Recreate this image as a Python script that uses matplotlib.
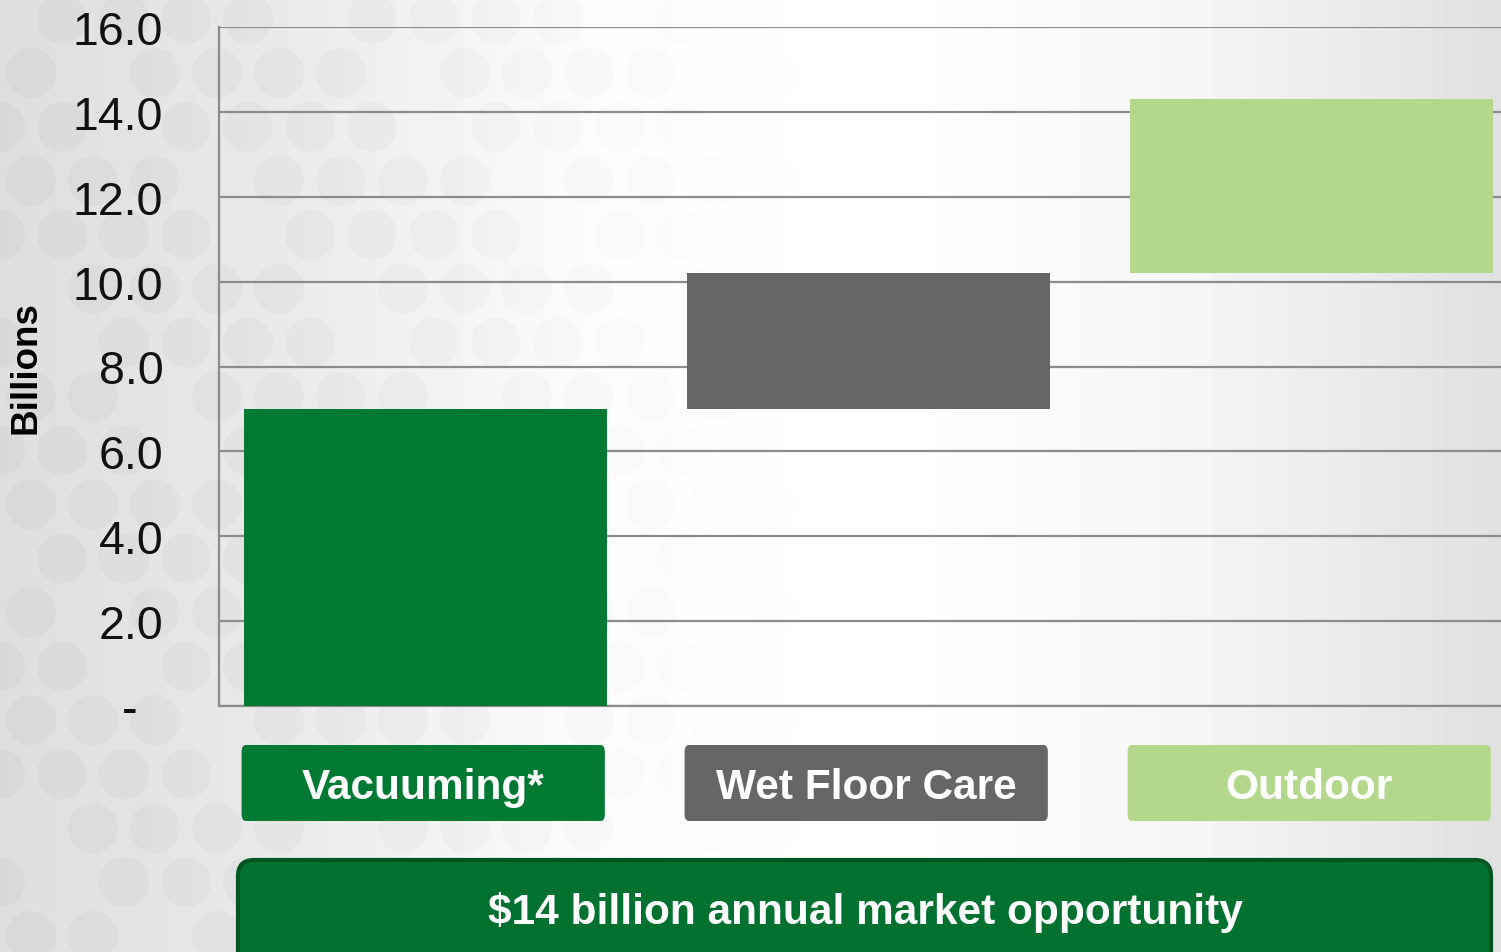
import numpy as np
import matplotlib
matplotlib.use("Agg")
import matplotlib.pyplot as plt
from matplotlib.patches import FancyBboxPatch, Circle
import matplotlib.transforms as mtransforms

plt.rcParams['font.family'] = ['Liberation Sans', 'DejaVu Sans']

# ============================================
# DATA
# ============================================
categories = ["Vacuuming*", "Wet Floor Care", "Outdoor"]
increments = [7.0, 3.2, 4.1]          # billions, stacked as a waterfall
bar_colors = ["#007A33", "#666666", "#B3D88C"]
y_ticks = [0, 2, 4, 6, 8, 10, 12, 14, 16]
y_tick_labels = ["-  ", "2.0", "4.0", "6.0", "8.0", "10.0", "12.0", "14.0", "16.0"]
banner_text = "$14 billion annual market opportunity"

bottoms = np.concatenate([[0.0], np.cumsum(increments)[:-1]])

W, H = 1501, 953
fig = plt.figure(figsize=(W / 100, H / 100), dpi=100)

# ============================================
# BACKGROUND (gradient + faint dots + banner)
# ============================================
bg = fig.add_axes([0, 0, 1, 1])
bg.set_xlim(0, W)
bg.set_ylim(H, 0)
bg.axis('off')

xs = np.linspace(0, 1, 400)
shade = np.interp(xs, [0.0, 0.2, 0.4, 0.6, 0.8, 1.0],
                  [0.87, 0.92, 0.99, 1.0, 0.96, 0.88])
grad = np.tile(shade, (10, 1))
bg.imshow(grad, cmap='gray', vmin=0, vmax=1, extent=[0, W, H, 0],
          aspect='auto', zorder=0)

# loose honeycomb of soft dots, fading to the right
step = 62
for row in range(0, 18):
    cy = 20 + row * step * 0.87
    off = (step / 2) if row % 2 else 0
    for col in range(0, 16):
        if (row * 7 + col * 3) % 5 == 0:
            continue
        cx = col * step + off
        fade = max(0.0, 1 - cx / 800.0)
        if fade <= 0:
            continue
        bg.add_patch(Circle((cx, cy), 25, color='#c4c4c4',
                            alpha=0.22 * fade, lw=0, zorder=1))

banner = FancyBboxPatch((238, 861), 1253, 120,
                        boxstyle="round,pad=0,rounding_size=16",
                        facecolor='#00712E', edgecolor='#005520', lw=3, zorder=2)
bg.add_patch(banner)
bg.text(865, 913, banner_text, color='white', fontsize=30.5,
        fontweight='bold', ha='center', va='center', zorder=3)

# ============================================
# CHART
# ============================================
ax = fig.add_axes([219 / W, 1 - 707 / H, 1 - 219 / W, (707 - 28) / H])
ax.patch.set_alpha(0)

x = np.arange(len(categories))
ax.bar(x, increments, bottom=bottoms, width=0.82, color=bar_colors, zorder=3)

ax.set_xlim(-0.466, 2.428)
ax.set_ylim(0, 16)
ax.set_yticks(y_ticks)
ax.set_yticklabels(y_tick_labels)
ax.tick_params(axis='y', length=0, pad=40, labelsize=33.5, labelcolor='#111111')
ax.set_xticks([])
ax.yaxis.grid(True, color='#8c8c8c', lw=1.6, zorder=1)
ax.set_axisbelow(True)
for side in ['top', 'right']:
    ax.spines[side].set_visible(False)
for side in ['left', 'bottom']:
    ax.spines[side].set_color('#8c8c8c')
    ax.spines[side].set_linewidth(1.6)

ax.set_ylabel("Billions", fontsize=26.5, fontweight='bold')
ax.yaxis.set_label_coords(-0.137, 0.5)

# category label boxes under the bars
trans = mtransforms.blended_transform_factory(ax.transData, ax.transAxes)
box_top = -39 / 679
box_h = 76 / 679
for xi, name, col in zip(x, categories, bar_colors):
    ax.add_patch(FancyBboxPatch((xi - 0.41 - 0.005, box_top - box_h), 0.82, box_h,
                                boxstyle="round,pad=0,rounding_size=0.01",
                                transform=trans, facecolor=col, edgecolor='none',
                                clip_on=False, zorder=4))
    ax.text(xi - 0.005, box_top - box_h / 2 - 4 / 679, name, transform=trans,
            color='white', fontsize=30.5, fontweight='bold',
            ha='center', va='center', clip_on=False, zorder=5)

fig.savefig("out.png", dpi=100)
